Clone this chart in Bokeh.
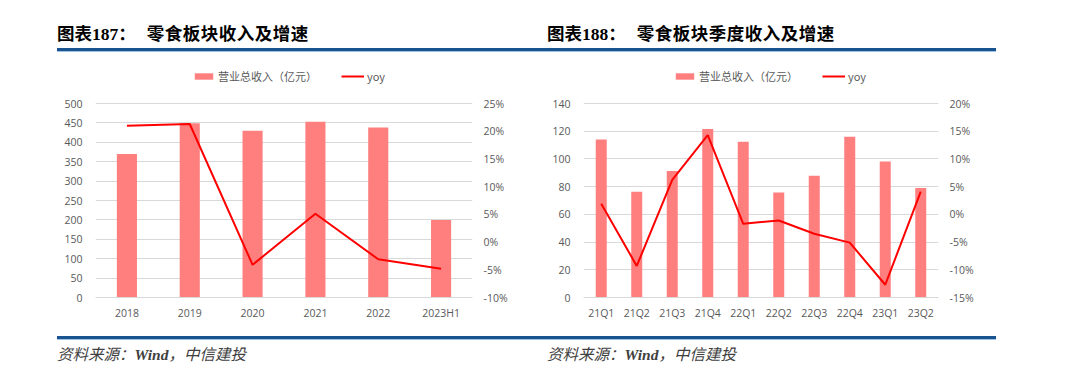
from bokeh.plotting import figure
from bokeh.models import (Range1d, LinearAxis, FixedTicker, PrintfTickFormatter,
                          Legend, LegendItem, FactorRange, Div)
from bokeh.layouts import row, column
from bokeh.embed import file_html
from bokeh.resources import INLINE

# ---- data ----
years = ["2018", "2019", "2020", "2021", "2022", "2023H1"]
rev_year = [370, 449, 430, 453, 438, 200]
yoy_year = [21.0, 21.3, -4.1, 5.1, -3.1, -4.8]
year_rev_ticks = [0, 50, 100, 150, 200, 250, 300, 350, 400, 450, 500]
year_pct_ticks = [-10, -5, 0, 5, 10, 15, 20, 25]

quarters = ["21Q1", "21Q2", "21Q3", "21Q4", "22Q1", "22Q2", "22Q3", "22Q4", "23Q1", "23Q2"]
rev_q = [114, 76.4, 91.2, 121.6, 112.4, 75.7, 87.9, 116, 98.1, 79]
yoy_q = [1.9, -9.3, 6.2, 14.3, -1.7, -1.1, -3.5, -5.1, -12.7, 4.1]
q_rev_ticks = [0, 20, 40, 60, 80, 100, 120, 140]
q_pct_ticks = [-15, -10, -5, 0, 5, 10, 15, 20]

legend_bar = "营业总收入（亿元）"
legend_line = "yoy"
titles = [("图表", "187", "零食板块收入及增速"), ("图表", "188", "零食板块季度收入及增速")]
source_parts = ("资料来源：", "Wind", "，中信建投")

BAR = "#FF7F7F"
LINE = "#FF0000"
GRID = "#D9D9D9"
TXT = "#595959"
BLUE = "#1A5490"
LIGHTBLUE = "#9DC3E6"
CJK = "Noto Sans CJK SC"

FIG_H = 280          # figure spans page y 55..335
FRAME_TOP = 10       # frame top at page y 65
GRID_TOP = 48        # top gridline at page y 103
FRAME_BOTTOM = 38    # frame bottom at page y 297


def make_chart(cats, rev, yoy, rev_ticks, pct_ticks, bar_w, bl, br, legend_x):
    frame_h = FIG_H - FRAME_TOP - FRAME_BOTTOM
    grid_h = FIG_H - GRID_TOP - FRAME_BOTTOM
    scale = frame_h / grid_h
    y_top = rev_ticks[0] + (rev_ticks[-1] - rev_ticks[0]) * scale
    p_top = pct_ticks[0] + (pct_ticks[-1] - pct_ticks[0]) * scale

    p = figure(width=540, height=FIG_H,
               x_range=FactorRange(factors=cats, range_padding=0),
               y_range=Range1d(rev_ticks[0], y_top),
               output_backend="svg", toolbar_location=None,
               min_border_left=bl, min_border_right=br,
               min_border_top=FRAME_TOP, min_border_bottom=FRAME_BOTTOM)
    p.outline_line_color = None
    p.extra_y_ranges = {"yoy": Range1d(pct_ticks[0], p_top)}

    r_bar = p.vbar(x=cats, top=rev, width=bar_w, fill_color=BAR, line_color=None)
    r_line = p.line(x=cats, y=yoy, y_range_name="yoy", line_color=LINE, line_width=2)

    ly = p.yaxis[0]
    ly.ticker = FixedTicker(ticks=rev_ticks)
    ry = LinearAxis(y_range_name="yoy", ticker=FixedTicker(ticks=pct_ticks),
                    formatter=PrintfTickFormatter(format="%d%%"))
    p.add_layout(ry, "right")
    for ax in (ly, ry):
        ax.axis_line_color = None
        ax.major_tick_line_color = None
        ax.minor_tick_line_color = None
        ax.major_tick_out = 0
        ax.major_tick_in = 0
        ax.minor_tick_out = 0
        ax.major_label_text_color = TXT
        ax.major_label_text_font = "Open Sans"
        ax.major_label_text_font_size = "10.5px"
    ly.major_label_standoff = 13
    ry.major_label_standoff = 11
    xa = p.xaxis[0]
    xa.axis_line_color = GRID
    xa.major_tick_line_color = None
    xa.minor_tick_line_color = None
    xa.major_tick_out = 0
    xa.major_tick_in = 0
    xa.major_label_text_color = TXT
    xa.major_label_text_font = "Open Sans"
    xa.major_label_text_font_size = "10.5px"
    xa.major_label_standoff = 8

    p.xgrid.grid_line_color = None
    p.ygrid.grid_line_color = GRID
    p.ygrid.ticker = FixedTicker(ticks=rev_ticks)

    legend = Legend(items=[LegendItem(label=legend_bar, renderers=[r_bar]),
                           LegendItem(label=legend_line, renderers=[r_line])],
                    orientation="horizontal", location=(legend_x, 213),
                    border_line_color=None, background_fill_alpha=0,
                    padding=0, margin=0, spacing=24, glyph_width=23, glyph_height=8,
                    label_standoff=3, label_text_font_size="11px",
                    label_text_color=TXT, label_text_font=CJK, label_height=14)
    p.add_layout(legend)
    return p


def title_div(parts, x0, rule_l, rule_w):
    html = (
        '<div style="position:relative;width:540px;height:55px;">'
        f'<div style="position:absolute;left:{x0}px;top:23px;height:20px;line-height:20px;'
        'white-space:nowrap;font-size:17.5px;font-weight:bold;color:#000;">'
        f'<span style="font-family:\'{CJK}\'">{parts[0]}</span>'
        f'<span style="font-family:\'Liberation Serif\'">{parts[1]}</span>'
        f'<span style="font-family:\'{CJK}\'">：</span>'
        '<span style="display:inline-block;width:11px"></span>'
        f'<span style="font-family:\'{CJK}\';letter-spacing:0.5px">{parts[2]}</span>'
        '</div>'
        f'<div style="position:absolute;left:{rule_l}px;top:48px;width:{rule_w}px;height:3px;background:{BLUE}"></div>'
        f'<div style="position:absolute;left:{rule_l}px;top:51px;width:{rule_w}px;height:1px;background:{LIGHTBLUE}"></div>'
        '</div>'
    )
    return Div(text=html, width=540, height=55, margin=0)


def source_div(x0, rule_l, rule_w):
    html = (
        '<div style="position:relative;width:540px;height:40px;">'
        f'<div style="position:absolute;left:{rule_l}px;top:1px;width:{rule_w}px;height:3px;background:{BLUE}"></div>'
        f'<div style="position:absolute;left:{rule_l}px;top:4px;width:{rule_w}px;height:1px;background:{LIGHTBLUE}"></div>'
        f'<div style="position:absolute;left:{x0}px;top:8px;height:20px;line-height:20px;'
        'white-space:nowrap;font-size:15.5px;font-style:italic;color:#404040;">'
        f'<span style="font-family:\'{CJK}\';font-weight:normal">{source_parts[0]}</span>'
        f'<span style="font-family:\'Liberation Serif\';font-weight:bold">{source_parts[1]}</span>'
        f'<span style="font-family:\'{CJK}\';font-weight:normal">{source_parts[2]}</span>'
        '</div>'
        '</div>'
    )
    return Div(text=html, width=540, height=40, margin=0)


p1 = make_chart(years, rev_year, yoy_year, year_rev_ticks, year_pct_ticks, 0.32, 95, 68, 97)
p2 = make_chart(quarters, rev_q, yoy_q, q_rev_ticks, q_pct_ticks, 0.31, 43, 142, 90)

layout = column(
    row(title_div(titles[0], 57, 57, 483), title_div(titles[1], 7, 0, 456), spacing=0),
    row(p1, p2, spacing=0),
    row(source_div(57, 57, 483), source_div(7, 0, 456), spacing=0),
    spacing=0,
)
open("out.html", "w").write(file_html(layout, INLINE))
